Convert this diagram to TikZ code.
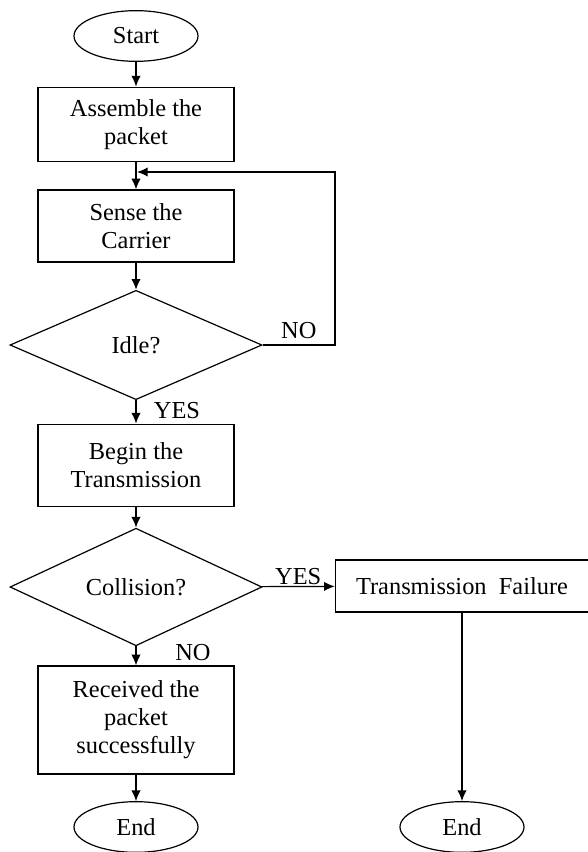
\documentclass[tikz,border=0pt]{standalone}
\usepackage{fontspec}
\setmainfont{Liberation Serif}
\usetikzlibrary{shapes.geometric, arrows.meta}

\tikzset{
		box/.style={draw, line width=0.9pt, rectangle, align=center, minimum width=147pt},
		term/.style={draw, line width=0.9pt, ellipse, minimum width=93pt, minimum height=38pt, inner sep=0pt},
		cond/.style={draw, line width=0.9pt, diamond, minimum width=189pt, minimum height=82pt, inner sep=0pt},
		arrow/.style={-{Latex[length=8pt, width=7pt]}, line width=0.9pt},
		lbl/.style={inner sep=1pt}
	}

\begin{document}
\begin{tikzpicture}[x=0.75pt, y=-0.75pt, font=\fontsize{18.3}{21}\selectfont]

\useasboundingbox (0,0) rectangle (587,852);

\node (start) at (136,36) [term] {Start};
\node (assemble) at (136,124.5) [box, minimum height=56pt] {Assemble the\\packet};
\node (sense) at (136,226) [box, minimum height=54pt] {Sense the\\Carrier};
\node (idle) at (136,345) [cond] {Idle?};
\node (begin) at (136,465.5) [box, minimum height=62pt] {Begin the\\Transmission};
\node (collision) at (136,587) [cond] {Collision?};
\node (received) at (136,720) [box, minimum height=81pt] {Received the\\packet\\successfully};
\node (failure) at (462,586) [box, minimum width=190pt, minimum height=39pt] {Transmission\ \ Failure};

\node (endl) at (136,827) [term] {End};
\node (endr) at (462,827) [term] {End};

\coordinate (loop) at (137,172);

\draw [arrow] (start) to (assemble);
\draw [arrow] (assemble) to (sense);
\draw [arrow] (sense) to (idle);
\draw [arrow] (idle) to node [lbl, right, pos=0.45, xshift=12pt] {YES} (begin);
\draw [arrow] (begin) to (collision);
\draw [arrow] (collision) to node [lbl, right, pos=0.3, xshift=28pt] {NO} (received);
\draw [arrow] (collision) to node [lbl, above] {YES} (failure);
\draw [arrow] (failure) to (endr);
\draw [arrow] (received) to (endl);

% back to sensing
\draw [arrow] (idle.east) -- node [lbl, above, yshift=3pt] {NO} (335,345) |- (loop);

\end{tikzpicture}
\end{document}
